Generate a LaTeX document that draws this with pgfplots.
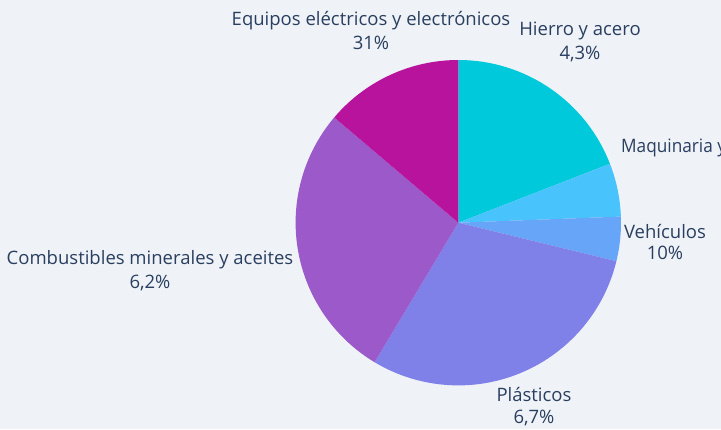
\documentclass[border=0pt]{standalone}
\usepackage{pgfplots}
\pgfplotsset{compat=1.18}
\usepackage{pgfplotstable}
\usepackage{fontspec}
\setmainfont{Open Sans}
\definecolor{bg}{HTML}{EFF3F8}
\definecolor{txt}{HTML}{2A3F5F}
\definecolor{c0}{HTML}{00C9DB}
\definecolor{c1}{HTML}{48C3FB}
\definecolor{c2}{HTML}{66A5F7}
\definecolor{c3}{HTML}{7F80E8}
\definecolor{c4}{HTML}{9B59C9}
\definecolor{c5}{HTML}{B8139C}
% slice shares (percent of the circle), clockwise from 12 o'clock
\pgfplotstableread{
share
19.1
5.3
4.4
29.8
27.6
13.8
}\piedata
\begin{document}
\begin{tikzpicture}
\begin{axis}[x=1pt, y=1pt, xmin=0, xmax=721, ymin=0, ymax=429,
  hide axis, scale only axis, clip=false]
\fill[bg] (axis cs:0,0) rectangle (axis cs:721,429);
\coordinate (ll) at (axis cs:0,0);
\coordinate (ur) at (axis cs:721,429);
\pgfplotsextra{
  \def\cx{458.3}\def\cy{206.3}\def\rr{162.7}
  \pgfmathsetmacro{\startang}{90}
  \foreach \i in {0,...,5}{
    \pgfplotstablegetelem{\i}{share}\of\piedata
    \pgfmathsetmacro{\endang}{\startang-3.6*\pgfplotsretval}
    \fill[c\i] (axis cs:\cx,\cy) -- ++(\startang:\rr pt) arc[start angle=\startang, end angle=\endang, radius=\rr pt] -- cycle;
    \xdef\startang{\endang}
  }
}
\begin{scope}[every node/.style={text=txt, font=\fontsize{18.5}{22}\selectfont, anchor=base, inner sep=0pt}]
\node at (axis cs:371,403) {Equipos eléctricos y electrónicos};
\node at (axis cs:371,379.7) {31\%};
\node at (axis cs:580,393) {Hierro y acero};
\node at (axis cs:580,369) {4,3\%};
\node[anchor=base west, xscale=0.93] at (axis cs:621,276.5) {Maquinaria y equipos};
\node at (axis cs:665,190.7) {Vehículos};
\node at (axis cs:665,169) {10\%};
\node at (axis cs:534,28) {Plásticos};
\node at (axis cs:534,6) {6,7\%};
\node at (axis cs:150,164) {Combustibles minerales y aceites};
\node at (axis cs:150,140) {6,2\%};
\end{scope}
\end{axis}
\pgfresetboundingbox
\path[use as bounding box] (ll) rectangle (ur);
\end{tikzpicture}
\end{document}
